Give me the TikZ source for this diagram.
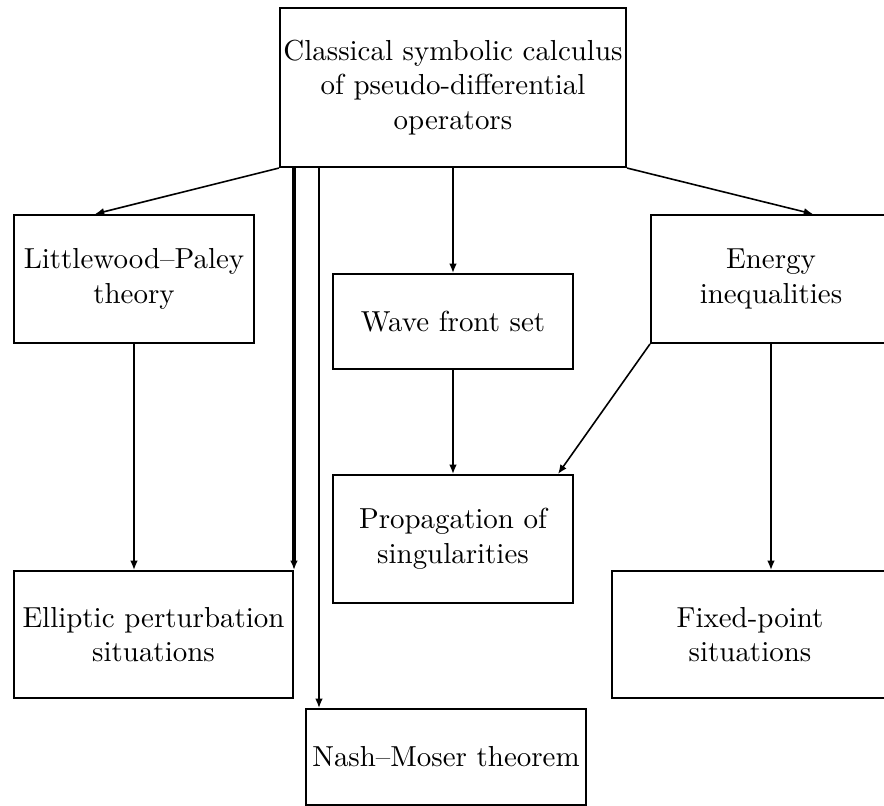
\documentclass[tikz,border=0pt]{standalone}
\usetikzlibrary{calc,arrows.meta}
\begin{document}
\begin{tikzpicture}[x=0.3455pt,y=-0.3455pt,
  box/.style 2 args={draw, line width=0.7pt, align=center, inner sep=0pt,
    font=\fontsize{10}{12}\selectfont,
    minimum width=#1*0.3455pt, minimum height=#2*0.3455pt},
  arr/.style={-{Latex[length=3.2pt,width=2.6pt]}, line width=0.55pt},
  thickarr/.style={-{Latex[length=3.2pt,width=2.6pt]}, line width=1.1pt},
]
\useasboundingbox (0,0) rectangle (884,806);
\node[box={346}{159}] (top) at (453,87.5) {Classical symbolic calculus\\of pseudo-differential\\operators};
\node[box={240}{128}] (lp) at (134,279) {Littlewood--Paley\\theory};
\node[box={240}{95}] (wave) at (453,321.5) {Wave front set};
\node[box={240}{128}] (energy) at (771,279) {Energy\\inequalities};
\node[box={240}{128}] (prop) at (453,539) {Propagation of\\singularities};
\node[box={279}{127}] (ell) at (153.5,634.5) {Elliptic perturbation\\situations};
\node[box={276}{127}] (fix) at (750,634.5) {Fixed-point\\situations};
\node[box={280}{96}] (nash) at (446,757) {Nash--Moser theorem};

\coordinate (lpin) at ($(lp.north)+(-39,0)$);
\coordinate (enin) at ($(energy.north)+(42,0)$);
\coordinate (propin) at ($(prop.north east)+(-16,0)$);
\coordinate (nashin) at ($(nash.north west)+(14,0)$);

\draw[arr] (top.south west) -- (lpin);
\draw[arr] (top.south east) -- (enin);
\draw[arr] (top.south) -- (wave.north);
\draw[arr] (wave.south) -- (prop.north);
\draw[arr] (energy.south west) -- (propin);
\draw[arr] (lp.south) -- (lp.south |- ell.north);
\draw[arr] (energy.south) -- (energy.south |- fix.north);
\draw[thickarr] (ell.north east |- top.south) -- (ell.north east);
\draw[arr] (nashin |- top.south) -- (nashin);
\end{tikzpicture}
\end{document}
